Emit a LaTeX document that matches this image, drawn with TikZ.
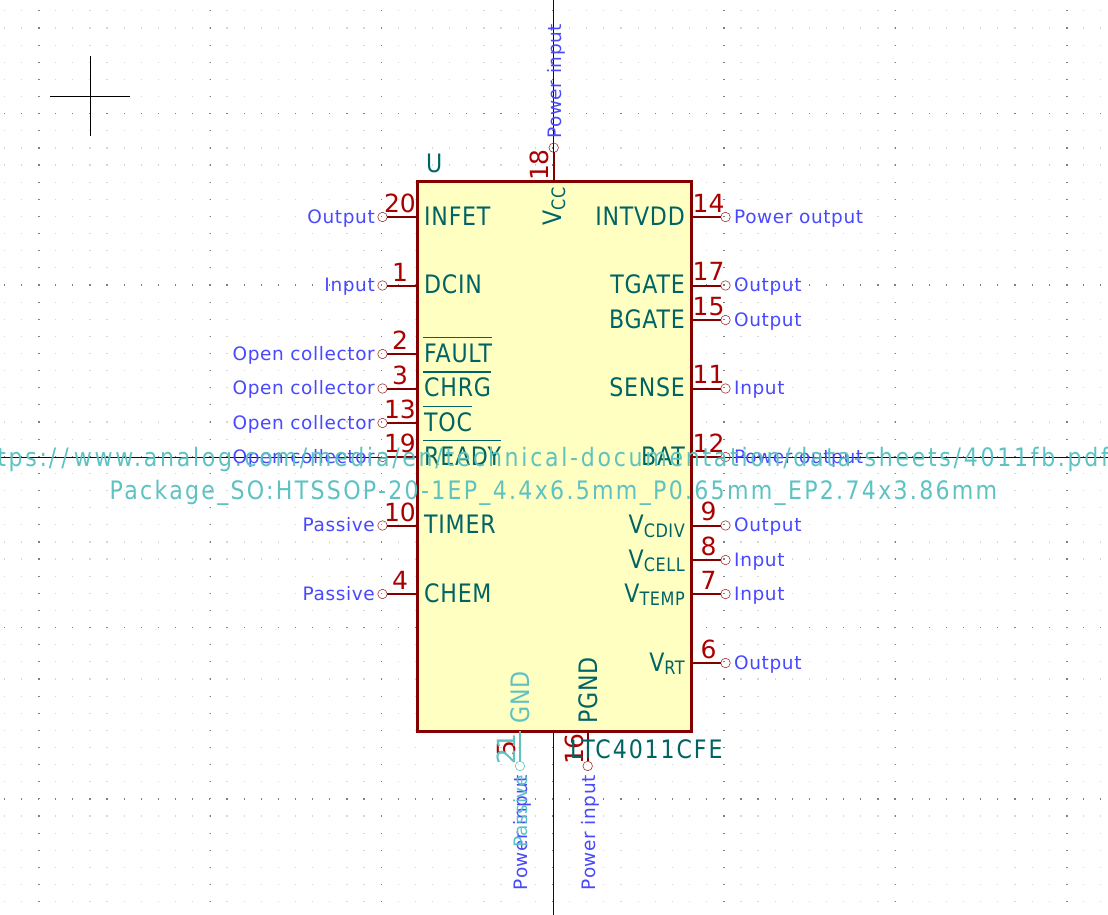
\documentclass[tikz,border=0pt]{standalone}
\usepackage{fontspec}
\setmainfont{DejaVu Sans}
\newfontfamily\namefont[FakeStretch=0.87,LetterSpace=3]{DejaVu Sans}
\newfontfamily\valfont[FakeStretch=0.87,LetterSpace=7.5]{DejaVu Sans}
\newfontfamily\typefont[LetterSpace=3.3]{DejaVu Sans}
\newfontfamily\fieldfont[FakeStretch=0.87,LetterSpace=9]{DejaVu Sans}
\newfontfamily\docfont[FakeStretch=0.87,LetterSpace=10.6]{DejaVu Sans}
\definecolor{pinname}{RGB}{0,100,100}
\definecolor{pinnum}{RGB}{169,0,0}
\definecolor{bodyline}{RGB}{132,0,0}
\definecolor{bodyfill}{RGB}{255,255,194}
\definecolor{pintype}{RGB}{72,72,255}
\definecolor{hiddencol}{RGB}{94,194,194}
\definecolor{axisline}{RGB}{0,0,132}
\tikzset{
  pinend/.style={circle,draw=bodyline!80,line width=0.6pt,fill=none,minimum size=9.5pt,inner sep=0pt,outer sep=0pt},
  hiddenend/.style={pinend,draw=hiddencol},
  pinline/.style={draw=bodyline,line width=2pt},
  hiddenline/.style={draw=hiddencol,line width=2pt},
  namelab/.style={inner sep=0pt,text=pinname,font=\namefont\fontsize{25.4}{25.4}\selectfont},
  numlab/.style={inner sep=0pt,text=pinnum,font=\fontsize{25}{25}\selectfont},
  typelab/.style={inner sep=0pt,text=pintype,font=\typefont\fontsize{18.5}{18.5}\selectfont},
  fieldlab/.style={inner sep=0pt,text=hiddencol,font=\fieldfont\fontsize{25.4}{25.4}\selectfont},
  barline/.style={draw=pinname,line width=1.8pt},
  axis/.style={draw=axisline,line width=1.2pt},
}
\newcommand{\VV}[1]{V\raisebox{-3.5pt}{\fontsize{18.5}{18.5}\selectfont #1}}
\begin{document}
\begin{tikzpicture}[x=1pt,y=-1pt]
\useasboundingbox (0,0) rectangle (1108,915);
% grid
\foreach \i in {0,...,64}{\foreach \j in {0,...,53}{
  \fill[gray!32] (4.3+\i*17.13-.6,10.9+\j*17.13-.6) rectangle ++(1.2,1.2);
}}
\foreach \i in {0,...,6}{\foreach \j in {0,...,53}{
  \fill[gray] (39+\i*171.3-.8,10.9+\j*17.13-.6) rectangle ++(1.6,1.2);
}}
\foreach \i in {0,...,64}{\foreach \j in {0,...,4}{
  \fill[gray] (4.3+\i*17.13-.6,113.7+\j*171.3-.8) rectangle ++(1.2,1.6);
}}
% crosshair
\coordinate (chl) at (50,96.5); \coordinate (chr) at (130,96.5);
\coordinate (cht) at (90.5,56); \coordinate (chb) at (90.5,136);
\draw[black,line width=1.2pt] (chl) -- (chr) (cht) -- (chb);
% axes
\coordinate (axl) at (0,457.5); \coordinate (axr) at (1108,457.5);
\coordinate (axt) at (553.5,0); \coordinate (axb) at (553.5,915);
\draw[axis] (axl) -- (axr);
\draw[axis] (axt) -- (axb);
% body
\node[draw=bodyline,fill=bodyfill,line width=3pt,minimum width=274pt,minimum height=549.6pt,inner sep=0pt,outer sep=0pt] (body) at (554.5,456.5) {};
% left pins
\foreach \n/\y/\num/\nm/\ty in {
 a/217/20/INFET/Output, b/285.5/1/DCIN/Input, c/354/2/FAULT/Open collector,
 d/388.5/3/CHRG/Open collector, e/423/13/TOC/Open collector, f/457/19/READY/Open collector,
 g/525.5/10/TIMER/Passive, h/594/4/CHEM/Passive}{
  \node[pinend] (l\n) at (382.5,\y) {};
  \draw[pinline] (l\n) -- (l\n -| body.west);
  \node[namelab,anchor=base west] (ln\n) at (424,\y+8) {\nm};
  \node[numlab,anchor=base] (lu\n) at (400,\y-4.5) {\num};
  \node[typelab,anchor=base east] (lt\n) at (375,\y+6) {\ty};
}
% overbars
\foreach \n in {c,d,e,f}{
  \coordinate (bs\n) at ([xshift=-1pt]ln\n.base west);
  \coordinate (be\n) at ([xshift=0pt]ln\n.base east);
  \draw[barline] ([yshift=24.5pt]bs\n) -- ([yshift=24.5pt]be\n);
}
% right pins
\foreach \n/\y/\num/\nm/\ty in {
 a/217/14/INTVDD/Power output, b/285.5/17/TGATE/Output, c/320/15/BGATE/Output,
 d/388.5/11/SENSE/Input, e/457/12/BAT/Power output,
 f/525.5/9/\VV{CDIV}/Output, g/560/8/\VV{CELL}/Input, h/594/7/\VV{TEMP}/Input, i/663/6/\VV{RT}/Output}{
  \node[pinend] (r\n) at (725.5,\y) {};
  \draw[pinline] (r\n) -- (r\n -| body.east);
  \node[namelab,anchor=base east] (rn\n) at (685,\y+8) {\nm};
  \node[numlab,anchor=base] (ru\n) at (708.5,\y-5) {\num};
  \node[typelab,anchor=base west] (rt\n) at (734,\y+6) {\ty};
}
% top pin
\node[pinend] (tp) at (553.7,147.7) {};
\draw[pinline] (tp) -- (tp |- body.north);
\node[namelab,anchor=base west,rotate=90] (tn) at (561.5,226) {\VV{CC}};
\node[numlab,anchor=base,rotate=90] (tu) at (548.5,165) {18};
\node[typelab,anchor=base west,rotate=90] (tt) at (561,139) {Power input};
% bottom pins
\node[pinend] (bq) at (587.7,766) {};
\draw[pinline] (bq) -- (bq |- body.south);
\node[namelab,anchor=base west,rotate=90] (bqn) at (597,724) {PGND};
\node[numlab,anchor=base,rotate=90] (bqu) at (583,749) {16};
\node[typelab,anchor=base east,rotate=90] (bqt) at (595,775) {Power input};
\node[numlab,anchor=base,rotate=90] (bpv) at (515,749) {5};
\node[typelab,anchor=base east,rotate=90] (bpt) at (527,775) {Power input};
\node[hiddenend] (bp) at (520,766) {};
\draw[hiddenline] (bp) -- (bp |- body.south);
\node[namelab,text=hiddencol,anchor=base west,rotate=90] (bpn) at (529,724) {GND};
\node[numlab,text=hiddencol,anchor=base,rotate=90] (bpu) at (515,749) {21};
\node[typelab,text=hiddencol,anchor=base east,rotate=90] (bpw) at (527,775) {Passive};
% fields
\node[namelab,anchor=base west] (ref) at (426,172) {U};
\node[namelab,font=\valfont\fontsize{25.4}{25.4}\selectfont,anchor=base west] (val) at (570,758) {LTC4011CFE};
\node[fieldlab,anchor=base] (foot) at (553.5,499) {Package\_SO:HTSSOP-20-1EP\_4.4x6.5mm\_P0.65mm\_EP2.74x3.86mm};
\node[fieldlab,font=\docfont\fontsize{25.4}{25.4}\selectfont,anchor=base east] (doc) at (1109,466) {https:\kern2pt/\kern5pt/\kern5pt www.analog.com/media/en/technical-documentation/data-sheets/4011fb.pdf};
\end{tikzpicture}
\end{document}
